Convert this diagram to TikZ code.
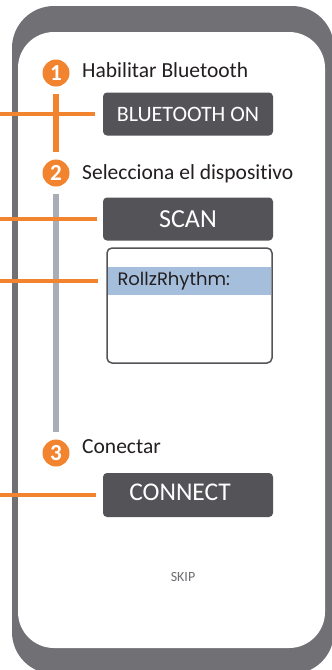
\documentclass[tikz,border=0pt]{standalone}
\usepackage{fontspec}
\setmainfont{Carlito}[Ligatures=CommonOff]
\newfontfamily\devfont{Poppins}
\definecolor{phonegray}{HTML}{717075}
\definecolor{btngray}{HTML}{545458}
\definecolor{steporange}{HTML}{F28430}
\definecolor{stemgray}{HTML}{A9AEB6}
\definecolor{rowblue}{HTML}{A5BEDC}
\definecolor{skipgray}{HTML}{6E6E73}
\definecolor{inkblack}{HTML}{231F20}

\begin{document}
\begin{tikzpicture}[x=1pt,y=1pt,yscale=-1,
    stepdot/.style={circle, fill=steporange, text=white, inner sep=0pt, minimum size=27pt, font=\bfseries\fontsize{23}{23}\selectfont},
    steptext/.style={anchor=base west, inner sep=0pt, text=inkblack, font=\fontsize{21.5}{21.5}\selectfont},
    appbtn/.style={rectangle, rounded corners=4pt, fill=btngray, text=white, inner sep=0pt, minimum width=170pt, minimum height=43pt},
    wire/.style={steporange, line width=4pt},
    stem/.style={line width=5.5pt, shorten <=7pt, shorten >=7pt}]

    \useasboundingbox (0,0) rectangle (332,670);
    \begin{scope}
        \clip (0,0) rectangle (332,670);
        \fill[phonegray, rounded corners=42pt] (12,6) rectangle (334,674);
        \fill[white, rounded corners=36pt] (18,32) rectangle (325,648);
    \end{scope}

    \draw (56,73)  node [stepdot] (s1) {1};
    \draw (56,173) node [stepdot] (s2) {2};
    \draw (56,453) node [stepdot] (s3) {3};
    \draw (82,77.5) node [steptext] (t1) {Habilitar Bluetooth};
    \draw (82,179)  node [steptext] (t2) {Selecciona el dispositivo};
    \draw (82,453)  node [steptext] (t3) {Conectar};

    \draw (188,114) node [appbtn, font=\fontsize{22}{22}\selectfont] (bton) {BLUETOOTH ON};
    \draw (188,219) node [appbtn, font=\fontsize{26}{26}\selectfont] (scan) {SCAN};
    \draw (188,495) node [appbtn, minimum height=44pt, font=\fontsize{25.5}{25.5}\selectfont] (conn) {\hspace*{-16pt}\raisebox{6pt}{CONNECT}};

    % device list
    \draw (189.5,305.5) node [rectangle, rounded corners=5pt, draw=btngray, line width=1.5pt, fill=white, minimum width=165pt, minimum height=115pt] (devlist) {};
    \draw (189.5,281) node [rectangle, fill=rowblue, minimum width=163.5pt, minimum height=28pt, inner xsep=9.75pt, text width=144pt, align=left, text=inkblack, font=\devfont\fontsize{18}{18}\selectfont] (devrow) {RollzRhythm:};

    \draw (183,577) node [text=skipgray, font=\fontsize{14}{14}\selectfont] (skip) {SKIP};

    \coordinate (w1) at (0,114);
    \coordinate (w2) at (0,219);
    \coordinate (w3) at (0,281);
    \coordinate (w4) at (0,495);

    \draw [stem, steporange] (s1) -- (s2);
    \draw [stem, stemgray] (s2) -- (s3);
    \draw [wire, shorten >=8pt] (w1) -- (bton.west);
    \draw [wire, shorten >=6pt] (w2) -- (scan.west);
    \draw [wire, shorten >=10pt] (w3) -- (devrow.west);
    \draw [wire, shorten >=7pt] (w4) -- (conn.west);

\end{tikzpicture}
\end{document}
